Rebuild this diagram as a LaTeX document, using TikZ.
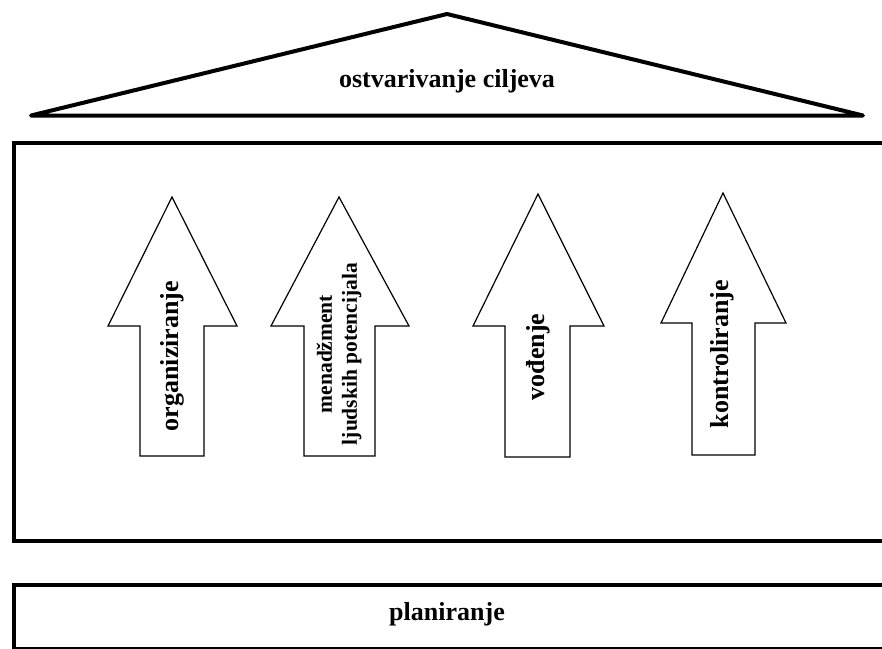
\documentclass[tikz,border=0pt]{standalone}
\usepackage{fontspec}
\setmainfont{Liberation Serif}
\begin{document}
\begin{tikzpicture}[x=1pt,y=-1pt,
  thick frame/.style={draw=black,line width=4pt},
  roofline/.style={draw=black,line width=4pt,line join=round},
  uparrow/.style={draw=black,line width=1.2pt,fill=white,line join=miter},
  bigtext/.style={font=\bfseries\fontsize{26}{30}\selectfont,inner sep=0pt},
  arrowtext/.style={font=\bfseries\fontsize{26}{30}\selectfont,rotate=90,inner sep=0pt},
  smalltext/.style={font=\bfseries\fontsize{21.5}{25}\selectfont,rotate=90,inner sep=0pt,align=center}]
\useasboundingbox (0,0) rectangle (882,648);
\begin{scope}
\clip (0,0) rectangle (882,648);
% roof
\draw[roofline] (31,115.5) -- (447,14) -- (863,115.5) -- cycle;
\node[bigtext,anchor=base] (goal) at (447,87) {ostvarivanje ciljeva};
% main frame
\draw[thick frame] (13.5,142.5) rectangle (900,540.5);
% bottom frame
\draw[thick frame] (13.5,584.5) rectangle (900,649);
\node[bigtext,anchor=base] (plan) at (447,620) {planiranje};
% arrows
\draw[uparrow] (140,456) -- (140,326) -- (108,326) -- (172,197) -- (237,326) -- (204,326) -- (204,456) -- cycle;
\draw[uparrow] (304,456) -- (304,326) -- (271,326) -- (339,197) -- (409,326) -- (375,326) -- (375,456) -- cycle;
\draw[uparrow] (505,457) -- (505,326) -- (473,326) -- (538,194) -- (604,326) -- (570,326) -- (570,457) -- cycle;
\draw[uparrow] (692,455) -- (692,323) -- (661,323) -- (723,193) -- (786,323) -- (755,323) -- (755,455) -- cycle;
\node[arrowtext] (org) at (172,356) {organiziranje};
\node[smalltext] (hr) at (339,354) {menadžment\\ljudskih potencijala};
\node[arrowtext] (vod) at (538,357) {vođenje};
\node[arrowtext] (kon) at (722,354) {kontroliranje};
\end{scope}
\end{tikzpicture}
\end{document}
